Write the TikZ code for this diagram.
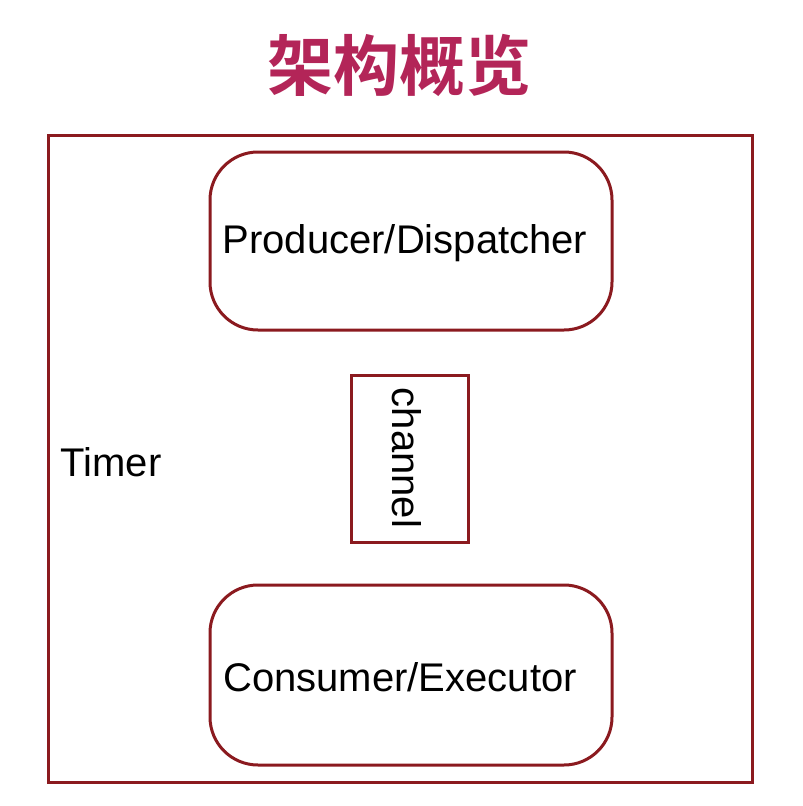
\documentclass[tikz,border=0pt]{standalone}
\usepackage{fontspec}
\setmainfont{Liberation Sans}
\newfontfamily\cjk{Noto Sans CJK SC Bold}
\definecolor{boxred}{HTML}{8B1A1F}
\definecolor{titlered}{HTML}{B32558}
\begin{document}
\begin{tikzpicture}[x=1pt,y=-1pt,
  edge/.style={draw=boxred,line width=3pt},
  lbl/.style={font=\fontsize{40}{44}\selectfont,text=black,inner sep=0pt}]
\useasboundingbox (0,0) rectangle (803,806);
\fill[white] (0,0) rectangle (803,806);
\node[font=\cjk\fontsize{66}{72}\selectfont,text=titlered,inner sep=0pt] (title) at (399,65) {架构概览};
\draw[edge] (48,135) rectangle (752,782);
\coordinate (outer) at (400,458);
\draw[edge,rounded corners=48pt] (210,152) rectangle (612,330);
\node[lbl] (prod) at (405,243) {Producer/Dispatcher};
\draw[edge] (351,375) rectangle (468,542);
\node[lbl,rotate=-90] (chan) at (407,458) {channel};
\draw[edge,rounded corners=48pt] (210,585) rectangle (612,765);
\node[lbl] (cons) at (400,677) {Consumer/Executor};
\node[lbl] (timer) at (111,462) {Timer};
\end{tikzpicture}
\end{document}
